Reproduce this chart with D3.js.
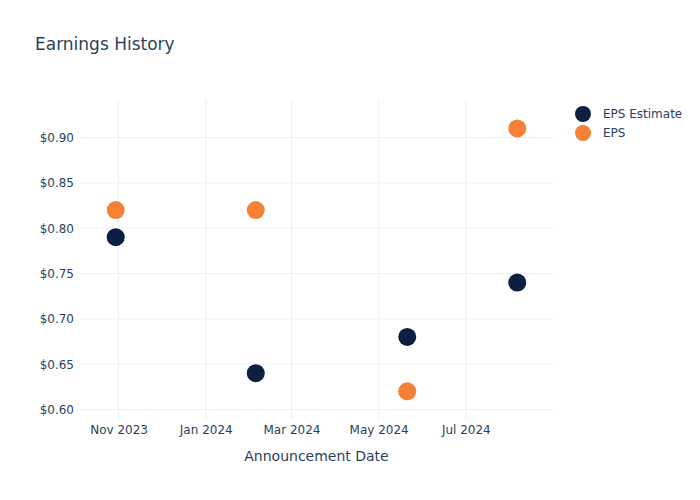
<!DOCTYPE html>
<html><head><meta charset="utf-8">
<script src="https://cdn.jsdelivr.net/npm/d3@7"></script>
<style>body{margin:0;background:#fff;} text{font-family:"DejaVu Sans",Verdana,sans-serif;}</style>
</head><body><svg id="c" width="700" height="500"></svg>
<script>
const dates = ["2023-10-30","2024-02-05","2024-05-21","2024-08-06"];
const epsEstimate = [0.79, 0.64, 0.68, 0.74];
const eps = [0.82, 0.82, 0.62, 0.91];
const yTicks = [0.60,0.65,0.70,0.75,0.80,0.85,0.90];
const xTicks = ["2023-11-01","2024-01-01","2024-03-01","2024-05-01","2024-07-01"];
const series = [{name:"EPS Estimate", values:epsEstimate, color:"#0c1f41"},{name:"EPS", values:eps, color:"#f48136"}];

const parse = d3.utcParse("%Y-%m-%d");
const svg = d3.select("#c");
const L=80,R=553,T=100,B=420;
const x = d3.scaleUtc().domain([parse("2023-10-05"), parse("2024-08-31")]).range([L,R]);
const y = d3.scaleLinear().domain([0.58842,0.94136]).range([B,T]);
const txt="#2a3f5f", grid="#ebf0f8";

svg.append("g").selectAll("line").data(xTicks).join("line")
 .attr("x1",d=>x(parse(d))).attr("x2",d=>x(parse(d))).attr("y1",T).attr("y2",B)
 .attr("stroke",grid).attr("stroke-width",1);
svg.append("g").selectAll("line").data(yTicks).join("line")
 .attr("x1",L).attr("x2",R).attr("y1",d=>y(d)).attr("y2",d=>y(d))
 .attr("stroke",grid).attr("stroke-width",1);

const xa = svg.append("g").attr("transform",`translate(0,${B})`)
 .call(d3.axisBottom(x).tickValues(xTicks.map(parse)).tickFormat(d3.utcFormat("%b %Y")).tickSize(0).tickPadding(5));
xa.select(".domain").remove();
xa.selectAll("text").attr("fill",txt).attr("font-size",12);
const ya = svg.append("g").attr("transform",`translate(${L},0)`)
 .call(d3.axisLeft(y).tickValues(yTicks).tickFormat(d=>"$"+d3.format(".2f")(d)).tickSize(0).tickPadding(6));
ya.select(".domain").remove();
ya.selectAll("text").attr("fill",txt).attr("font-size",12);

series.forEach(s=>{
 svg.append("g").selectAll("circle").data(s.values).join("circle")
  .attr("cx",(d,i)=>x(parse(dates[i]))).attr("cy",d=>y(d)).attr("r",9)
  .attr("fill",s.color);
});

svg.append("text").attr("x",35).attr("y",50).attr("fill",txt).attr("font-size",17).text("Earnings History");
svg.append("text").attr("x",(L+R)/2).attr("y",461).attr("text-anchor","middle").attr("fill",txt).attr("font-size",14).text("Announcement Date");

const lg = svg.append("g");
series.forEach((s,i)=>{
 lg.append("circle").attr("cx",583).attr("cy",114+i*19).attr("r",8).attr("fill",s.color);
 lg.append("text").attr("x",603).attr("y",118+i*19).attr("fill",txt).attr("font-size",12).text(s.name);
});
</script></body></html>
